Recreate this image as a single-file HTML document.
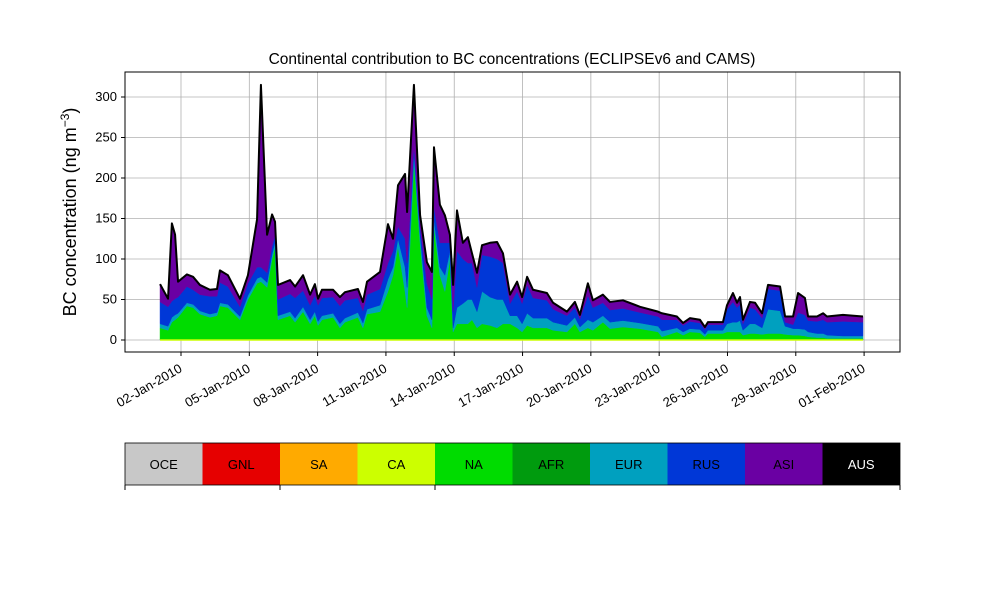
<!DOCTYPE html>
<html><head><meta charset="utf-8"><style>
body{margin:0;background:#fff;font-family:"Liberation Sans",sans-serif}
svg text{font-family:"Liberation Sans","DejaVu Sans",sans-serif}
</style></head><body>
<svg id="chart" width="1000" height="600" xmlns="http://www.w3.org/2000/svg">
<text x="512" y="64" font-size="15.5" text-anchor="middle">Continental contribution to BC concentrations (ECLIPSEv6 and CAMS)</text>
<text transform="translate(76,212) rotate(-90)" font-size="18" text-anchor="middle">BC concentration (ng m<tspan font-size="12" dy="-7">−3</tspan><tspan dy="7">)</tspan></text>
<g id="grid"></g>
<g id="areas"></g>
<g id="axes"></g>
<g id="cbar"></g>
</svg>
<script>
const days=[1.08,1.43,1.60,1.74,1.87,2.26,2.53,2.83,3.27,3.58,3.71,4.06,4.59,4.94,5.34,5.51,5.78,6.00,6.13,6.26,6.79,7.01,7.36,7.67,7.88,8.02,8.19,8.68,8.98,9.20,9.77,9.99,10.17,10.74,11.09,11.31,11.53,11.84,11.93,12.23,12.50,12.80,13.02,13.11,13.37,13.59,13.81,13.95,14.12,14.38,14.60,14.78,15.00,15.22,15.57,15.88,16.14,16.45,16.76,16.98,17.20,17.46,18.07,18.34,18.95,19.30,19.52,19.87,20.09,20.53,20.84,21.41,22.16,22.95,23.12,23.78,24.05,24.35,24.79,25.01,25.14,25.80,25.98,26.24,26.42,26.55,26.68,26.99,27.21,27.52,27.78,28.31,28.53,28.88,29.10,29.40,29.54,29.93,30.20,30.37,31.07,31.95];
const naVals=[15,12,22,25,28,42,40,32,28,30,42,40,25,50,70,72,65,100,115,25,30,22,35,20,30,18,25,28,15,22,28,15,32,35,60,80,115,60,40,220,120,30,15,140,80,60,100,10,20,20,20,25,15,20,18,15,20,20,15,10,18,15,15,12,10,20,10,15,12,22,14,16,14,10,4,10,6,10,9,4,8,8,10,10,10,10,6,8,8,7,8,8,7,6,6,5,4,3,3,2,2,2];
const eurVals=[5,5,6,6,5,4,4,4,4,4,4,4,4,5,6,6,6,6,6,5,5,5,6,5,5,5,5,5,5,5,6,6,6,8,15,10,10,30,25,10,10,10,10,10,10,20,10,5,20,25,30,25,20,40,35,35,30,10,15,10,15,12,12,10,8,8,6,10,10,8,8,8,7,7,7,5,4,4,4,3,4,4,10,12,12,14,6,12,12,8,30,28,10,8,8,8,6,5,5,4,3,3];
const rusVals=[27,24,20,20,20,20,18,20,22,20,25,22,12,15,14,12,12,10,8,20,22,25,20,18,20,20,22,20,22,22,18,15,18,20,20,20,15,35,30,10,10,30,25,15,30,40,10,20,70,55,45,45,30,45,50,50,45,15,30,25,35,25,22,16,12,12,10,30,18,16,15,15,13,12,14,10,8,9,8,6,7,7,18,25,18,20,8,20,18,12,25,25,5,5,20,18,14,15,17,16,18,17];
const asiVals=[22,10,96,79,19,15,16,12,8,9,15,14,10,10,59,225,47,39,17,18,17,14,19,13,14,8,10,9,11,10,11,11,16,21,48,15,51,80,63,75,14,26,34,73,47,34,10,33,50,20,32,12,18,12,17,21,12,11,12,8,10,10,9,8,5,7,5,15,9,10,10,10,7,6,8,4,3,4,4,3,3,3,5,11,6,9,5,7,8,6,5,5,7,10,24,21,5,6,8,7,8,7];
const yTicks=[0,50,100,150,200,250,300];
const xTickDays=[2,5,8,11,14,17,20,23,26,29,32];
const xTickLabels=["02-Jan-2010","05-Jan-2010","08-Jan-2010","11-Jan-2010","14-Jan-2010","17-Jan-2010","20-Jan-2010","23-Jan-2010","26-Jan-2010","29-Jan-2010","01-Feb-2010"];
const regions=["OCE","GNL","SA","CA","NA","AFR","EUR","RUS","ASI","AUS"];
const regionColors=["#c8c8c8","#e60000","#ffaa00","#ccff00","#00dc00","#009b0e","#00a0bf","#0037d7","#6a00a3","#000000"];

const NS="http://www.w3.org/2000/svg";
const X0=125,X1=900,Y0=72,Y1=352;
const xs=d=>181+(d-2)*22.77;
const ys=v=>340-v*0.81;
function mk(tag,attrs,parent){const e=document.createElementNS(NS,tag);for(const k in attrs)e.setAttribute(k,attrs[k]);parent.appendChild(e);return e;}
const grid=document.getElementById('grid'),areas=document.getElementById('areas'),axes=document.getElementById('axes'),cbar=document.getElementById('cbar');
yTicks.forEach(v=>{
  const l=mk('line',{x1:X0,x2:X1,y1:ys(v),y2:ys(v),stroke:'#b0b0b0','stroke-width':0.8},grid);
  
  
  const t=mk('line',{x1:X0-4,x2:X0,y1:ys(v),y2:ys(v),stroke:'#000'},axes);
  
  
  const tx=mk('text',{x:X0-8,y:ys(v)+4,'font-size':13,'text-anchor':'end'},axes);
  tx.textContent=v;
  
  
});
xTickDays.forEach((d,i)=>{
  const x=xs(d);
  const l=mk('line',{x1:x,x2:x,y1:Y0,y2:Y1,stroke:'#b0b0b0','stroke-width':0.8},grid);
  
  
  const t=mk('line',{x1:x,x2:x,y1:Y1,y2:Y1+4,stroke:'#000'},axes);
  
  
  const tx=mk('text',{transform:`translate(${x+2},${Y1+19}) rotate(-30)`,'font-size':13,'text-anchor':'end'},axes);
  tx.textContent=xTickLabels[i];
  
  
});
const layers=[[naVals,4],[eurVals,6],[rusVals,7],[asiVals,8]];
let base=days.map(()=>0);
layers.forEach(([vals,ci])=>{
  const top=base.map((b,i)=>b+vals[i]);
  let d='M'+days.map((t,i)=>xs(t)+','+ys(top[i])).join(' L');
  for(let i=days.length-1;i>=0;i--)d+=' L'+xs(days[i])+','+ys(base[i]);
  const p=mk('path',{d:d+'Z',fill:regionColors[ci],stroke:regionColors[ci],'stroke-width':0.5},areas);
  
  
  base=top;
});
const ca=mk('line',{x1:xs(days[0]),x2:xs(days[days.length-1]),y1:ys(0),y2:ys(0),stroke:'#ccff00','stroke-width':1.5},areas);


const tl=mk('path',{d:'M'+days.map((t,i)=>xs(t)+','+ys(base[i])).join(' L'),fill:'none',stroke:'#000','stroke-width':2,'stroke-linejoin':'round'},areas);


const fr=mk('rect',{x:X0,y:Y0,width:X1-X0,height:Y1-Y0,fill:'none',stroke:'#000','stroke-width':1},axes);


const cw=(X1-X0)/regions.length;
regions.forEach((r,i)=>{
  const rc=mk('rect',{x:X0+i*cw,y:443,width:cw,height:42,fill:regionColors[i]},cbar);
  
  
  const tx=mk('text',{x:X0+i*cw+cw/2,y:469,'font-size':13,'text-anchor':'middle',fill:r==='AUS'?'#fff':'#000'},cbar);
  tx.textContent=r;
  
  
});
const cf=mk('rect',{x:X0,y:443,width:X1-X0,height:42,fill:'none',stroke:'#000','stroke-width':0.8},cbar);


[X0,X0+2*cw,X0+4*cw,X1].forEach(x=>{
  const t=mk('line',{x1:x,x2:x,y1:485,y2:490,stroke:'#000'},cbar);
  
  
});
</script>
</body></html>
